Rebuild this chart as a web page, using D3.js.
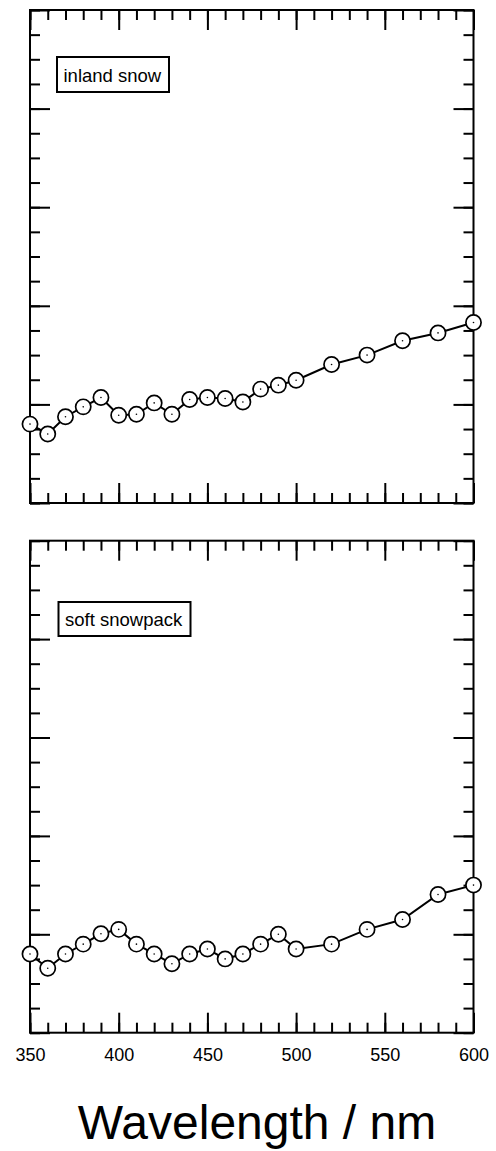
<!DOCTYPE html>
<html>
<head>
<meta charset="utf-8">
<script src="https://cdn.jsdelivr.net/npm/d3@7"></script>
<style>
  body { margin: 0; background: #fff; }
  svg { display: block; font-family: Arial, "Liberation Sans", sans-serif; }
</style>
</head>
<body>
<svg width="496" height="1151"></svg>
<script>
// Wavelengths (nm) of the measured points
const wavelength = [350, 360, 370, 380, 390, 400, 410, 420, 430, 440, 450, 460, 470, 480, 490, 500, 520, 540, 560, 580, 600];

// Series values (arbitrary units, no y labels on the chart)
const inlandSnow   = [0.160, 0.140, 0.175, 0.195, 0.214, 0.178, 0.180, 0.203, 0.180, 0.210, 0.214, 0.212, 0.205, 0.231, 0.239, 0.249, 0.281, 0.300, 0.329, 0.345, 0.366];
const softSnowpack = [0.160, 0.131, 0.160, 0.180, 0.201, 0.210, 0.180, 0.160, 0.140, 0.160, 0.170, 0.150, 0.160, 0.180, 0.200, 0.170, 0.180, 0.210, 0.230, 0.281, 0.300];

// Tick labels
const xMajorTicks = [350, 400, 450, 500, 550, 600];
const xMinorTicks = d3.range(350, 601, 10);
const yMajorTicks = [0, 0.2, 0.4, 0.6, 0.8, 1.0];
const yMinorTicks = d3.range(0, 1.0001, 0.05);

const svg = d3.select('svg');

const left = 30, right = 473.5;
const x = d3.scaleLinear().domain([350, 600]).range([left, right]);

const panels = [
	{ name: 'inland snow',   values: inlandSnow,   top: 10,    bottom: 503,   box: [57, 57, 112, 35],   textY: 82,  textX: 63.5, last: false },
	{ name: 'soft snowpack', values: softSnowpack, top: 540.7, bottom: 1032.7, box: [58.5, 602, 132, 34], textY: 626, textX: 65,   last: true }
];

panels.forEach(function(p) {
	const y = d3.scaleLinear().domain([0, 1]).range([p.bottom, p.top]);
	const g = svg.append('g');

	// x ticks, pointing inward at bottom and top
	const addX = function(ticks, size, atBottom, labels) {
		const ax = (atBottom ? d3.axisBottom(x) : d3.axisTop(x))
			.tickValues(ticks)
			.tickSize(-size)
			.tickPadding(16)
			.tickFormat(labels ? d3.format('d') : '');
		const a = g.append('g')
			.attr('transform', 'translate(0,' + (atBottom ? p.bottom : p.top) + ')')
			.call(ax);
		a.select('.domain').remove();
		a.selectAll('line').attr('stroke', '#000').attr('stroke-width', 2);
		a.selectAll('text').attr('font-size', 18).attr('fill', '#000')
			.attr('font-family', 'Arial, "Liberation Sans", sans-serif');
	};
	addX(xMinorTicks, 10, true, false);
	addX(xMajorTicks, 20, true, p.last);
	addX(xMinorTicks, 10, false, false);
	addX(xMajorTicks, 20, false, false);

	// y ticks, pointing inward at left and right
	const addY = function(ticks, size, atLeft) {
		const ay = (atLeft ? d3.axisLeft(y) : d3.axisRight(y))
			.tickValues(ticks)
			.tickSize(-size)
			.tickFormat('');
		const a = g.append('g')
			.attr('transform', 'translate(' + (atLeft ? left : right) + ',0)')
			.call(ay);
		a.select('.domain').remove();
		a.selectAll('line').attr('stroke', '#000').attr('stroke-width', 2);
	};
	addY(yMinorTicks, 10, true);
	addY(yMajorTicks, 20, true);
	addY(yMinorTicks, 10, false);
	addY(yMajorTicks, 20, false);

	// frame
	g.append('rect')
		.attr('x', left).attr('y', p.top)
		.attr('width', right - left).attr('height', p.bottom - p.top)
		.attr('fill', 'none').attr('stroke', '#000').attr('stroke-width', 2);

	// data line
	const line = d3.line()
		.x(function(d, i) { return x(wavelength[i]); })
		.y(function(d) { return y(d); });
	g.append('path')
		.datum(p.values)
		.attr('d', line)
		.attr('fill', 'none')
		.attr('stroke', '#000')
		.attr('stroke-width', 2);

	// markers: open circle with a dot in the centre
	const m = g.selectAll('.marker')
		.data(p.values)
		.enter()
		.append('g')
		.classed('marker', true)
		.attr('transform', function(d, i) { return 'translate(' + x(wavelength[i]) + ',' + y(d) + ')'; });
	m.append('circle').attr('r', 7.6).attr('fill', '#fff').attr('stroke', '#000').attr('stroke-width', 1.7);
	m.append('circle').attr('r', 0.8).attr('fill', '#000');

	// legend box
	g.append('rect')
		.attr('x', p.box[0]).attr('y', p.box[1])
		.attr('width', p.box[2]).attr('height', p.box[3])
		.attr('fill', '#fff').attr('stroke', '#000').attr('stroke-width', 2);
	g.append('text')
		.attr('x', p.textX).attr('y', p.textY)
		.attr('font-size', 18.5)
		.text(p.name);
});

// x axis title
svg.append('text')
	.attr('x', 257).attr('y', 1139)
	.attr('text-anchor', 'middle')
	.attr('font-size', 48)
	.text('Wavelength / nm');
</script>
</body>
</html>
